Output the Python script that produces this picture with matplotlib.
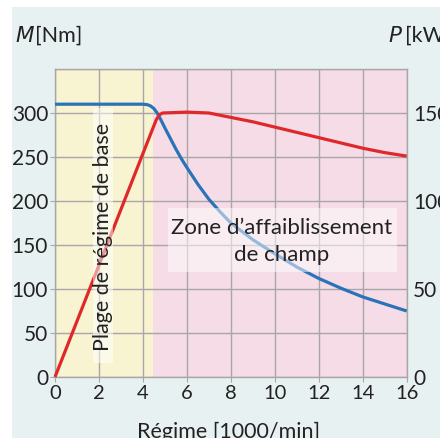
import matplotlib
matplotlib.use("Agg")
import matplotlib.pyplot as plt
from matplotlib.patches import Rectangle

# Data
speed_M = [0, 4.0, 4.2, 4.35, 4.5, 4.65, 4.8, 5.0, 5.25, 5.5, 5.75, 6.0, 6.5, 7.0, 7.5, 8.0, 9.0, 10.0, 11.0, 12.0, 13.0, 14.0, 15.0, 16.0]
torque_M = [310, 310, 309.5, 308, 305, 300, 293, 283, 271, 259, 248, 238, 219, 202, 188, 175, 156, 140, 125, 112, 101, 91, 83, 75]
speed_P = [0, 4.6, 4.75, 4.9, 6.0, 7.0, 8.0, 9.0, 10.0, 11.0, 12.0, 13.0, 14.0, 15.0, 16.0]
power_P = [0, 146, 149, 150, 150.5, 150, 147.5, 145, 142, 139, 136, 133, 130, 127.5, 125.5]
x_ticks = [0, 2, 4, 6, 8, 10, 12, 14, 16]
m_ticks = [0, 50, 100, 150, 200, 250, 300]
p_ticks = [0, 50, 100, 150]
base_range = (0, 4.45)
field_range = (4.45, 16)

FONT = "Lato"
plt.rcParams['font.family'] = [FONT, 'DejaVu Sans']

BG = "#e8f1f1"
YEL = "#f8f3d0"
PINK = "#f5dce6"
RED = "#e0282a"
BLUE = "#2b73b9"
GRID = "#a9a5a9"
TXT = "#222222"

fig = plt.figure(figsize=(4.4, 4.38), dpi=100)
fig.patch.set_facecolor("white")
fig.patches.append(Rectangle((12/440, 0), 1, (438-7)/438, transform=fig.transFigure,
                             facecolor=BG, edgecolor="none", zorder=-10))

ax = fig.add_axes([55/440, 61/438, 351.7/440, 308/438])
ax.set_xlim(0, 16)
ax.set_ylim(0, 350)
ax.axvspan(*base_range, color=YEL, zorder=0, lw=0)
ax.axvspan(*field_range, color=PINK, zorder=0, lw=0)
ax.set_xticks(x_ticks)
ax.set_yticks(m_ticks)
ax.set_yticks([350], minor=True)
ax.grid(True, which='both', color=GRID, lw=1.0, zorder=1)
ax.set_axisbelow(False)
for s in ax.spines.values():
    s.set_color(GRID)
    s.set_linewidth(1.0)
ax.tick_params(axis='both', which='major', length=3.5, color=GRID, labelsize=15,
               labelcolor=TXT, pad=1.5)
ax.tick_params(axis='x', which='major', labelsize=14.5, pad=2)
ax.tick_params(axis='y', which='minor', length=0)
ax.plot(speed_M, torque_M, color=BLUE, lw=2.3, zorder=4, solid_capstyle='butt')

ax2 = ax.twinx()
ax2.set_ylim(0, 175)
ax2.set_yticks(p_ticks)
ax2.tick_params(axis='y', length=0, labelsize=15, labelcolor=TXT, pad=4.5)
for s in ax2.spines.values():
    s.set_visible(False)
ax2.plot(speed_P, power_P, color=RED, lw=2.3, zorder=3, solid_capstyle='butt', clip_on=False)

# Text boxes on top
ax2.add_patch(Rectangle((1.71, 16), 0.94, 290, transform=ax.transData,
                        facecolor="white", alpha=0.5, edgecolor="none", zorder=6))
ax2.text(2.2, 159, "Plage de régime de base", transform=ax.transData, rotation=90,
         ha='center', va='center', fontsize=15.5, color=TXT, zorder=7)
ax2.add_patch(Rectangle((5.14, 119), 10.41, 73, transform=ax.transData,
                        facecolor="white", alpha=0.5, edgecolor="none", zorder=6))
ax2.text(10.3, 154, "Zone d’affaiblissement\nde champ", transform=ax.transData,
         ha='center', va='center', fontsize=16, color=TXT, zorder=7,
         linespacing=1.4)

fig.text(15/440, 1 - 36/438, r"$\it{M}$", fontsize=15.5, va='center', ha='left', color=TXT)
fig.text(35/440, 1 - 36/438, "[Nm]", fontsize=15.5, va='center', ha='left', color=TXT)
fig.text(388/440, 1 - 36/438, r"$\it{P}$", fontsize=15.5, va='center', ha='left', color=TXT)
fig.text(405/440, 1 - 36/438, "[kW]", fontsize=15.5, va='center', ha='left', color=TXT)
fig.text(229/440, 1 - 432/438, "Régime [1000/min]", fontsize=15.5, va='center', ha='center', color=TXT)

fig.savefig("out.png", dpi=100, facecolor=fig.get_facecolor())
